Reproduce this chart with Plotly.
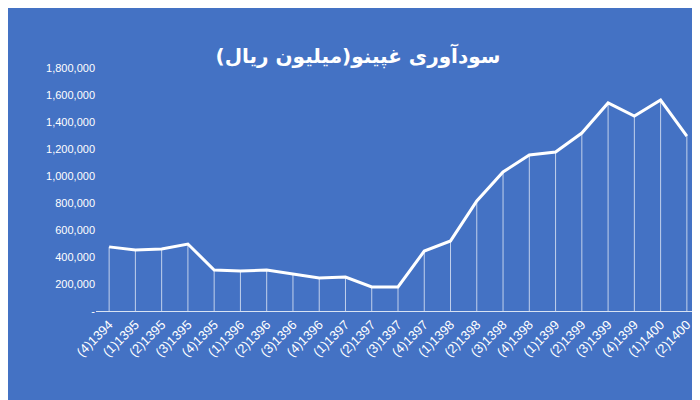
import plotly.graph_objects as go

labels = ["(4)1394", "(1)1395", "(2)1395", "(3)1395", "(4)1395",
          "(1)1396", "(2)1396", "(3)1396", "(4)1396",
          "(1)1397", "(2)1397", "(3)1397", "(4)1397",
          "(1)1398", "(2)1398", "(3)1398", "(4)1398",
          "(1)1399", "(2)1399", "(3)1399", "(4)1399",
          "(1)1400", "(2)1400"]
profit = [475000, 452000, 459000, 496000, 304000,
          296000, 304000, 274000, 244000,
          252000, 178000, 178000, 444000,
          519000, 815000, 1030000, 1156000,
          1178000, 1318000, 1541000, 1444000,
          1563000, 1296000]
tick_vals = [0, 200000, 400000, 600000, 800000, 1000000, 1200000, 1400000, 1600000, 1800000]
tick_text = ["-", "200,000", "400,000", "600,000", "800,000", "1,000,000",
             "1,200,000", "1,400,000", "1,600,000", "1,800,000"]

# drop lines from each point down to the axis
dx, dy = [], []
for lab, v in zip(labels, profit):
    dx += [lab, lab, None]
    dy += [0, v, None]

fig = go.Figure()
fig.add_trace(go.Scatter(x=dx, y=dy, mode="lines",
                         line=dict(color="rgba(255,255,255,0.85)", width=0.8),
                         hoverinfo="skip", showlegend=False))
fig.add_trace(go.Scatter(x=labels, y=profit, mode="lines",
                         line=dict(color="white", width=3), showlegend=False))

fig.update_layout(
    width=700, height=400,
    paper_bgcolor="#4472C4", plot_bgcolor="#4472C4",
    margin=dict(l=88, r=8, t=60, b=97),
    title=dict(text="<b>سودآوری غپینو(میلیون ریال)</b>", x=0.5, y=0.88,
               yanchor="middle",
               font=dict(family="DejaVu Sans", size=20, color="white")),
    font=dict(family="Liberation Sans", size=12, color="white"),
    xaxis=dict(type="category", tickangle=-45, showgrid=False,
               range=[-0.5, len(labels) - 0.5],
               showline=True, linecolor="rgba(255,255,255,0.8)",
               tickfont=dict(size=13), ticks=""),
    yaxis=dict(range=[0, 1800000], tickvals=tick_vals, ticktext=tick_text,
               showgrid=False, zeroline=False, tickfont=dict(size=11)),
)
fig.write_html("out.html")
